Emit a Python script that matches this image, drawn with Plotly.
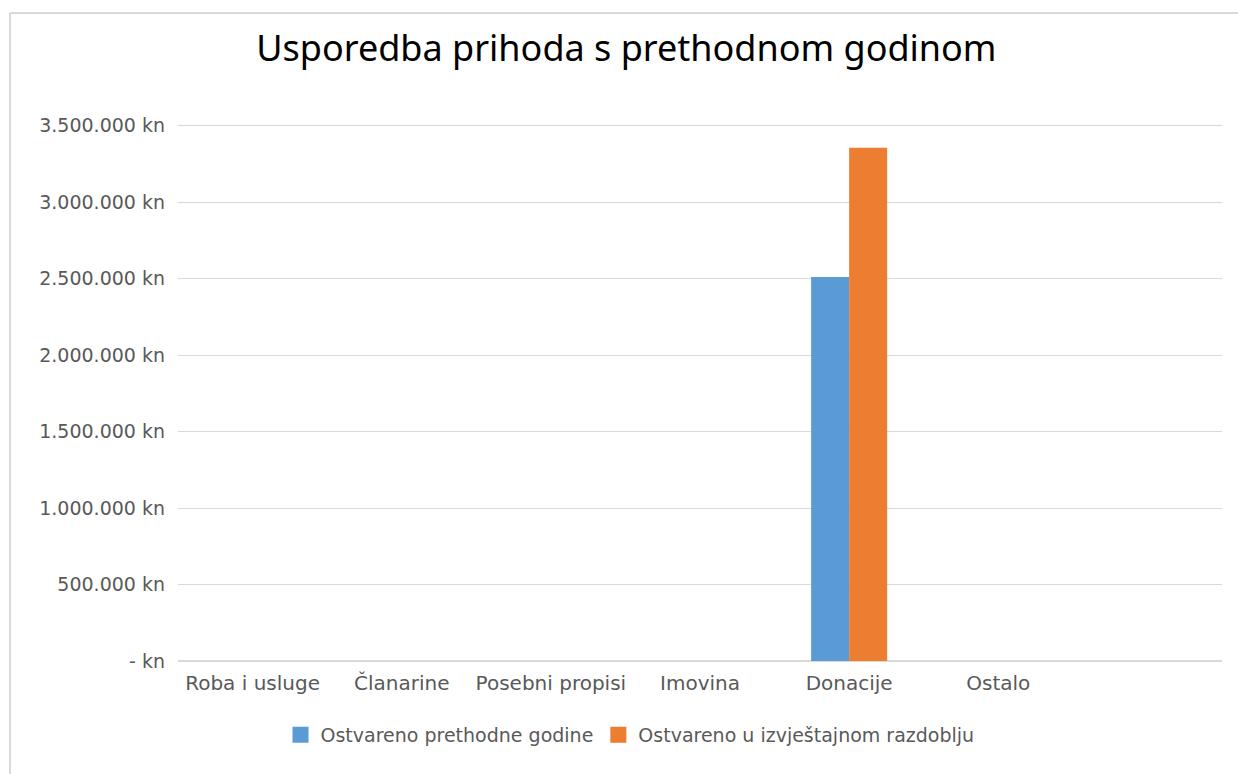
import plotly.graph_objects as go

categories = ["Roba i usluge", "Članarine", "Posebni propisi", "Imovina", "Donacije", "Ostalo"]
prev_year = [0, 0, 0, 0, 2510000, 0]
this_period = [0, 0, 0, 0, 3355000, 0]
series_names = ["Ostvareno prethodne godine", "Ostvareno u izvještajnom razdoblju"]
series_colors = ["#5b9bd5", "#ed7d31"]
tick_vals = [0, 500000, 1000000, 1500000, 2000000, 2500000, 3000000, 3500000]
tick_text = ["- kn", "500.000 kn", "1.000.000 kn", "1.500.000 kn", "2.000.000 kn",
             "2.500.000 kn", "3.000.000 kn", "3.500.000 kn"]
y_max = 3510000

W, H = 1238, 774
L, R, B = 178, 16, 113
T = 124
FONT = "DejaVu Sans"
GRAY = "#595959"
GRID = "#d9d9d9"

fig = go.Figure()
for name, vals, col in zip(series_names, [prev_year, this_period], series_colors):
    fig.add_trace(go.Bar(x=categories, y=vals, name=name, marker_color=col,
                         marker_line_width=0, showlegend=False, legendgroup=name))
for name, col in zip(series_names, series_colors):
    fig.add_trace(go.Scatter(x=[None], y=[None], mode="markers", name=name,
                             legendgroup=name,
                             marker=dict(symbol="square", size=22, color=col)))

pw = W - L - R
ph = H - T - B
def px_x(p):
    return (p - L) / pw
def px_y(p):
    return (H - B - p) / ph

fig.update_layout(
    width=W, height=H,
    margin=dict(l=L, r=R, t=T, b=B, autoexpand=False),
    paper_bgcolor="white", plot_bgcolor="white",
    barmode="group", bargap=0.49, bargroupgap=0,
    title=dict(text="Usporedba prihoda s prethodnom godinom", x=0.506, xanchor="center",
               y=1 - 48 / H, yanchor="middle",
               font=dict(family="Noto Sans", size=36, color="#000000")),
    xaxis=dict(range=[-0.5, 6.5], showgrid=False, showline=False, zeroline=False,
               ticks="", ticklabelstandoff=8,
               tickfont=dict(family=FONT, size=20, color=GRAY)),
    yaxis=dict(range=[0, y_max], tickvals=tick_vals, ticktext=tick_text,
               showgrid=True, gridcolor=GRID, gridwidth=1.3,
               zeroline=True, zerolinecolor=GRID, zerolinewidth=1.5,
               showline=False, ticks="", ticklabelstandoff=12,
               tickfont=dict(family=FONT, size=19, color=GRAY)),
    legend=dict(orientation="h", x=px_x(630), xanchor="center", y=px_y(735), yanchor="middle",
                font=dict(family=FONT, size=19, color=GRAY), traceorder="normal",
                itemsizing="trace"),
    shapes=[
        dict(type="line", xref="paper", yref="paper", x0=px_x(10), x1=px_x(1240),
             y0=px_y(13), y1=px_y(13), line=dict(color=GRID, width=2)),
        dict(type="line", xref="paper", yref="paper", x0=px_x(10), x1=px_x(10),
             y0=px_y(13), y1=px_y(776), line=dict(color=GRID, width=2)),
    ],
)

fig.write_html("out.html", config={"displayModeBar": False},
               post_script="document.body.style.margin='0';")
